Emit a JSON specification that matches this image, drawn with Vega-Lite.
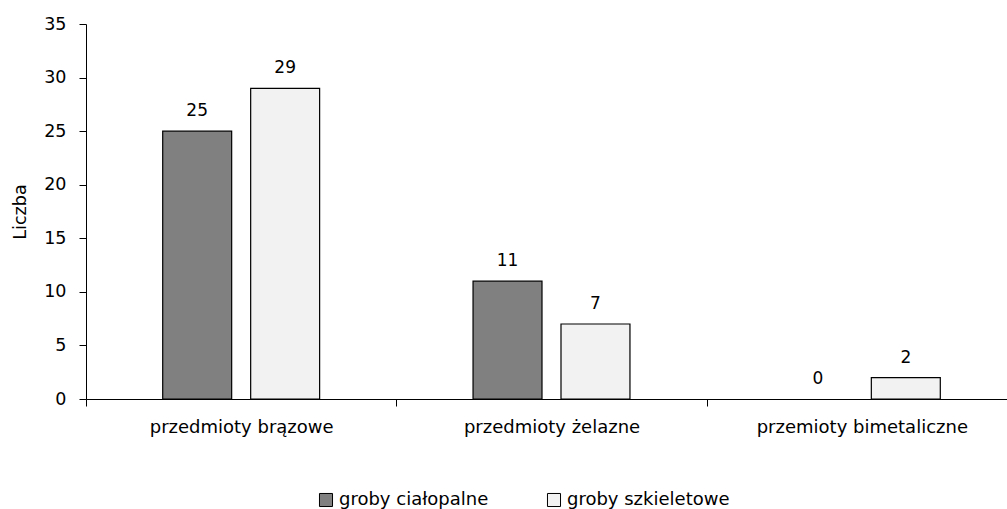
{
  "$schema": "https://vega.github.io/schema/vega-lite/v6.json",
  "autosize": {"type": "none"},
  "padding": {"left": 86, "top": 24, "right": 0, "bottom": 110},
  "width": 931,
  "height": 375,
  "background": "white",
  "config": {
    "font": "DejaVu Sans",
    "view": {"stroke": null}
  },
  "data": {
    "values": [
      {"kategoria": "przedmioty brązowe", "typ": "groby ciałopalne", "liczba": 25},
      {"kategoria": "przedmioty brązowe", "typ": "groby szkieletowe", "liczba": 29},
      {"kategoria": "przedmioty żelazne", "typ": "groby ciałopalne", "liczba": 11},
      {"kategoria": "przedmioty żelazne", "typ": "groby szkieletowe", "liczba": 7},
      {"kategoria": "przemioty bimetaliczne", "typ": "groby ciałopalne", "liczba": 0},
      {"kategoria": "przemioty bimetaliczne", "typ": "groby szkieletowe", "liczba": 2}
    ]
  },
  "encoding": {
    "x": {
      "field": "kategoria", "type": "nominal", "sort": null,
      "scale": {"paddingInner": 0, "paddingOuter": 0},
      "axis": {
        "title": null, "labelAngle": 0, "labelFontSize": 18, "labelColor": "#000",
        "domainColor": "#000", "tickColor": "#000", "tickSize": 7, "labelLimit": 0,
        "tickBand": "extent", "labelPadding": 12, "labelFont": "DejaVu Sans"
      }
    },
    "xOffset": {
      "field": "typ", "type": "nominal", "sort": null,
      "scale": {"paddingInner": 0.216, "paddingOuter": 0.872}
    },
    "y": {
      "field": "liczba", "type": "quantitative",
      "scale": {"domain": [0, 35], "nice": false},
      "axis": {
        "title": "Liczba", "titleFontSize": 17.5, "titleFontWeight": "normal", "titleColor": "#000",
        "titlePadding": 14, "titleFont": "DejaVu Sans",
        "values": [0, 5, 10, 15, 20, 25, 30, 35], "grid": false,
        "labelFontSize": 17.5, "labelColor": "#000", "labelPadding": 13, "labelFont": "DejaVu Sans",
        "domainColor": "#000", "tickColor": "#000", "tickSize": 7
      }
    }
  },
  "layer": [
    {
      "transform": [{"filter": "datum.liczba > 0"}],
      "mark": {"type": "bar", "stroke": "#000", "strokeWidth": 1.2},
      "encoding": {
        "fill": {
          "field": "typ", "type": "nominal", "sort": null,
          "scale": {"domain": ["groby ciałopalne", "groby szkieletowe"], "range": ["#808080", "#f2f2f2"]},
          "legend": {
            "title": null, "orient": "none", "direction": "horizontal",
            "legendX": 231, "legendY": 467, "symbolType": "square",
            "symbolSize": 170, "symbolStrokeColor": "#000", "symbolStrokeWidth": 1,
            "labelFontSize": 18, "labelColor": "#000", "labelFont": "DejaVu Sans", "labelLimit": 0,
            "columnPadding": 56, "labelOffset": 4
          }
        }
      }
    },
    {
      "mark": {"type": "text", "baseline": "bottom", "dy": -11, "fontSize": 17, "color": "#000", "font": "DejaVu Sans"},
      "encoding": {"text": {"field": "liczba", "type": "quantitative"}}
    }
  ]
}
